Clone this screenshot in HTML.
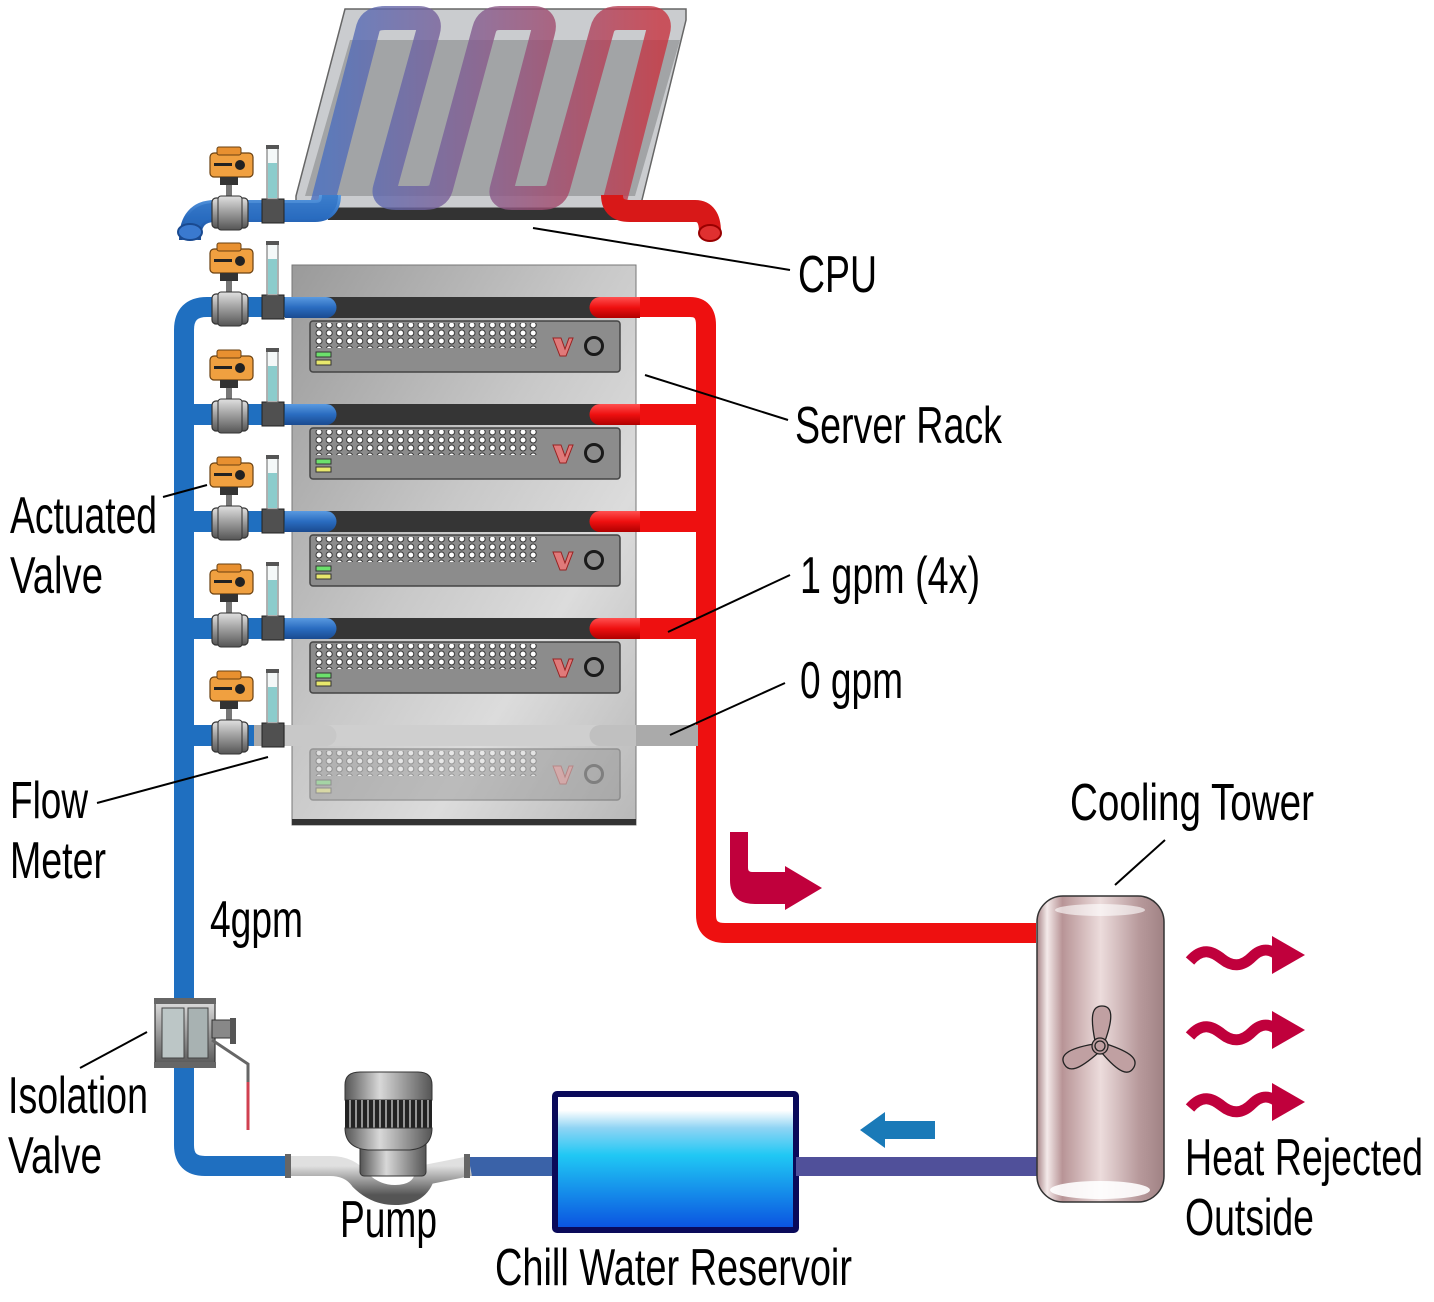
<!DOCTYPE html>
<html><head><meta charset="utf-8"><style>html,body{margin:0;padding:0;background:#fff}svg{display:block}
text{font-family:"Liberation Sans Narrow","Liberation Sans",sans-serif;font-size:52px;fill:#000}</style></head>
<body>
<svg width="1434" height="1302" viewBox="0 0 1434 1302" xmlns="http://www.w3.org/2000/svg">
<defs>
<linearGradient id="rack" x1="0" y1="0" x2="1" y2="1">
<stop offset="0" stop-color="#9a9a9a"/><stop offset="0.45" stop-color="#c8c8c8"/><stop offset="0.7" stop-color="#dcdcdc"/><stop offset="1" stop-color="#b8b8b8"/></linearGradient>
<linearGradient id="serp" x1="0" y1="0" x2="1" y2="0">
<stop offset="0" stop-color="#4a70c0"/><stop offset="0.5" stop-color="#8a5a8a"/><stop offset="1" stop-color="#c83440"/></linearGradient>
<linearGradient id="blueV" x1="0" y1="0" x2="0" y2="1"><stop offset="0" stop-color="#5a9ae0"/><stop offset="0.5" stop-color="#2a6cc0"/><stop offset="1" stop-color="#1a4a90"/></linearGradient>
<linearGradient id="redV" x1="0" y1="0" x2="0" y2="1"><stop offset="0" stop-color="#ff5050"/><stop offset="0.5" stop-color="#ee1010"/><stop offset="1" stop-color="#b00000"/></linearGradient>
<linearGradient id="tower" x1="0" y1="0" x2="1" y2="0">
<stop offset="0" stop-color="#a88688"/><stop offset="0.08" stop-color="#f4eaea"/><stop offset="0.2" stop-color="#b89496"/><stop offset="0.5" stop-color="#ecdcdc"/><stop offset="0.8" stop-color="#b89a9c"/><stop offset="1" stop-color="#a08284"/></linearGradient>
<linearGradient id="water" x1="0" y1="0" x2="0" y2="1">
<stop offset="0" stop-color="#ffffff"/><stop offset="0.12" stop-color="#ffffff"/><stop offset="0.25" stop-color="#8fd4f4"/><stop offset="0.45" stop-color="#20c8f4"/><stop offset="1" stop-color="#0a50e0"/></linearGradient>
<linearGradient id="metal" x1="0" y1="0" x2="0" y2="1"><stop offset="0" stop-color="#e0e0e0"/><stop offset="0.5" stop-color="#9a9a9a"/><stop offset="1" stop-color="#555"/></linearGradient>
<linearGradient id="metalH" x1="0" y1="0" x2="1" y2="0"><stop offset="0" stop-color="#555"/><stop offset="0.4" stop-color="#d8d8d8"/><stop offset="1" stop-color="#555"/></linearGradient>
<pattern id="dots" x="314" y="0" width="10.2" height="8" patternUnits="userSpaceOnUse">
<circle cx="5" cy="4" r="3" fill="#fff" stroke="#333" stroke-width="1"/></pattern>
<g id="server">
<rect x="292" y="0" width="344" height="21" fill="#353535"/>
<rect x="310" y="24" width="310" height="51" rx="3" fill="#8c8c8c" stroke="#444" stroke-width="1.5"/>
<rect x="314" y="26" width="225" height="25" fill="url(#dots)"/>
<rect x="316" y="55" width="15" height="5" fill="#6ce06c" stroke="#333"/>
<rect x="316" y="63" width="15" height="5" fill="#e8e86c" stroke="#333"/>
<path d="M553,41 L561,41 L565,52 L569,41 L573,41 L566,59 L560,59 Z" fill="#e07a7a" stroke="#922" stroke-width="1"/>
<circle cx="594" cy="49" r="8.5" fill="none" stroke="#1a1a1a" stroke-width="3"/>
</g>
<g id="valve">
<rect x="210" y="-58" width="43" height="24" rx="4" fill="#f0a040" stroke="#6a4010" stroke-width="1.2"/>
<rect x="217" y="-64" width="24" height="8" rx="2" fill="#e89030" stroke="#6a4010"/>
<circle cx="240" cy="-46" r="5" fill="#222"/>
<rect x="214" y="-48" width="18" height="3" fill="#222"/>
<rect x="220" y="-34" width="18" height="8" fill="#333"/>
<rect x="226" y="-26" width="6" height="14" fill="#777"/>
<rect x="212" y="-13" width="36" height="30" rx="4" fill="url(#metal)" stroke="#333" stroke-width="1.2"/>
<rect x="218" y="-15" width="24" height="34" rx="3" fill="url(#metal)" stroke="#333"/>
<rect x="262" y="-12" width="22" height="24" fill="#505050" stroke="#222"/>
<rect x="267" y="-64" width="11" height="52" fill="#f4f8f8" stroke="#666"/>
<rect x="268" y="-48" width="9" height="35" fill="#8ccccc"/>
<rect x="266" y="-66" width="13" height="4" fill="#555"/>
</g>
<path id="wave" d="M0,4 C12,-10 22,-6 32,2 C42,10 52,10 62,0 C72,-10 80,-8 88,-2" fill="none"/>
</defs>

<!-- CPU plate -->
<path d="M345,9 L686,9 L686,20 L640,208 L296,208 L296,196 Z" fill="#cacccf" stroke="#666" stroke-width="1.5"/>
<path d="M350,40 L680,40 L635,196 L305,196 Z" fill="#a2a4a6"/>
<rect x="328" y="208" width="305" height="12" fill="#333"/>
<path d="M322,205 L368,28 Q371,18 385,18 L418,18 Q432,18 428,32 L385,188 Q382,198 396,198 L425,198 Q438,198 441,188 L484,30 Q487,18 500,18 L533,18 Q547,18 543,32 L502,188 Q499,198 512,198 L542,198 Q555,198 558,188 L602,30 Q605,18 618,18 L648,18 Q662,18 658,32 L615,200" fill="none" stroke="url(#serp)" stroke-width="24" stroke-linejoin="round" opacity="0.8"/>

<!-- CPU blue pipe -->
<path d="M190,240 Q190,211 215,211 L315,211 Q330,211 330,195" fill="none" stroke="url(#blueV)" stroke-width="22"/>
<path d="M190,240 Q190,211 215,211 L315,211 Q330,211 330,195" fill="none" stroke="#2a6cc0" stroke-width="16" opacity="0.6"/>
<ellipse cx="190" cy="232" rx="12" ry="8" fill="#3a7ad0" stroke="#1a4a90" stroke-width="2"/>
<!-- CPU red pipe -->
<path d="M612,195 Q612,211 630,211 L695,211 Q710,211 710,232" fill="none" stroke="#d81818" stroke-width="22"/>
<ellipse cx="710" cy="233" rx="11" ry="8" fill="#e03030" stroke="#900" stroke-width="2"/>

<!-- Rack -->
<rect x="292" y="265" width="344" height="560" fill="url(#rack)" stroke="#777"/>
<rect x="292" y="819" width="344" height="6" fill="#333"/>
<use href="#server" y="297"/>
<use href="#server" y="404"/>
<use href="#server" y="511"/>
<use href="#server" y="618"/>
<g opacity="0.4"><use href="#server" y="725"/></g>
<rect x="292" y="725" width="344" height="21" fill="#cfcfcf"/>

<!-- main blue pipe -->
<path d="M184,1000 L184,330 Q184,307 207,307 L290,307" fill="none" stroke="#1f6fc0" stroke-width="20"/>
<path d="M184,1060 L184,1145 Q184,1166 205,1166 L290,1166" fill="none" stroke="#1f6fc0" stroke-width="20"/>
<rect x="194" y="404" width="96" height="21" fill="#1f6fc0"/>
<rect x="194" y="511" width="96" height="21" fill="#1f6fc0"/>
<rect x="194" y="618" width="96" height="21" fill="#1f6fc0"/>
<rect x="194" y="725" width="60" height="21" fill="#1f6fc0"/>
<rect x="254" y="725" width="40" height="21" fill="#aaa"/>
<g fill="url(#blueV)">
<path d="M285,297 L326,297 A10.5,10.5 0 0 1 326,318 L285,318Z"/>
<path d="M285,404 L326,404 A10.5,10.5 0 0 1 326,425 L285,425Z"/>
<path d="M285,511 L326,511 A10.5,10.5 0 0 1 326,532 L285,532Z"/>
<path d="M285,618 L326,618 A10.5,10.5 0 0 1 326,639 L285,639Z"/>
</g>
<path d="M285,725 L326,725 A10.5,10.5 0 0 1 326,746 L285,746Z" fill="#c8c8c8"/>
<!-- red -->
<path d="M600,307 L690,307 Q706,307 706,325 L706,915 Q706,933 725,933 L1036,933" fill="none" stroke="#ee1010" stroke-width="20"/>
<g fill="#ee1010">
<rect x="636" y="404" width="62" height="21"/><rect x="636" y="511" width="62" height="21"/><rect x="636" y="618" width="62" height="21"/>
</g>
<rect x="636" y="725" width="62" height="21" fill="#aaa"/>
<g fill="url(#redV)">
<path d="M640,297 L600,297 A10.5,10.5 0 0 0 600,318 L640,318Z"/>
<path d="M640,404 L600,404 A10.5,10.5 0 0 0 600,425 L640,425Z"/>
<path d="M640,511 L600,511 A10.5,10.5 0 0 0 600,532 L640,532Z"/>
<path d="M640,618 L600,618 A10.5,10.5 0 0 0 600,639 L640,639Z"/>
</g>
<path d="M636,725 L600,725 A10.5,10.5 0 0 0 600,746 L636,746Z" fill="#c0c0c0"/>

<use href="#valve" y="211"/>
<use href="#valve" y="307"/>
<use href="#valve" y="414"/>
<use href="#valve" y="521"/>
<use href="#valve" y="628"/>
<use href="#valve" y="735"/>

<!-- L arrow -->
<path d="M730,832 L748,832 L748,868 Q748,872 752,872 L785,872 L785,866 L822,888 L785,910 L785,904 L755,904 Q730,904 730,880 Z" fill="#c0003c"/>

<!-- isolation valve -->
<rect x="155" y="1000" width="60" height="66" fill="url(#metal)" stroke="#333" stroke-width="1.2"/>
<rect x="162" y="1008" width="22" height="50" fill="#bcc6c6" stroke="#444"/>
<rect x="188" y="1008" width="20" height="50" fill="#a8b2b2" stroke="#444"/>
<rect x="154" y="998" width="62" height="6" fill="#666"/><rect x="154" y="1062" width="62" height="6" fill="#666"/>
<rect x="212" y="1020" width="22" height="18" fill="#888" stroke="#333"/>
<rect x="230" y="1018" width="6" height="26" fill="#555"/>
<path d="M212,1040 L248,1064 L248,1130" fill="none" stroke="#666" stroke-width="3"/>
<line x1="248" y1="1082" x2="248" y2="1130" stroke="#d04050" stroke-width="3"/>

<rect x="465" y="1157" width="90" height="19" fill="#3a62a8"/>
<!-- pump -->
<path d="M290,1166 L330,1166 Q350,1166 360,1180 Q375,1195 395,1195 Q420,1195 425,1175 L470,1166" fill="none" stroke="url(#metal)" stroke-width="20"/>
<rect x="285" y="1154" width="6" height="24" fill="#666"/><rect x="464" y="1154" width="6" height="24" fill="#666"/>
<rect x="360" y="1140" width="66" height="36" rx="4" fill="url(#metalH)" stroke="#333"/>
<path d="M345,1100 L345,1085 Q345,1072 360,1072 L418,1072 Q432,1072 432,1085 L432,1100 Z" fill="url(#metalH)" stroke="#333"/>
<rect x="345" y="1100" width="87" height="28" fill="#222"/>
<g stroke="#bbb" stroke-width="1.5">
<line x1="350" y1="1100" x2="350" y2="1128"/><line x1="356" y1="1100" x2="356" y2="1128"/><line x1="362" y1="1100" x2="362" y2="1128"/><line x1="368" y1="1100" x2="368" y2="1128"/><line x1="374" y1="1100" x2="374" y2="1128"/><line x1="380" y1="1100" x2="380" y2="1128"/><line x1="386" y1="1100" x2="386" y2="1128"/><line x1="392" y1="1100" x2="392" y2="1128"/><line x1="398" y1="1100" x2="398" y2="1128"/><line x1="404" y1="1100" x2="404" y2="1128"/><line x1="410" y1="1100" x2="410" y2="1128"/><line x1="416" y1="1100" x2="416" y2="1128"/><line x1="422" y1="1100" x2="422" y2="1128"/><line x1="428" y1="1100" x2="428" y2="1128"/></g>
<path d="M345,1128 L432,1128 Q432,1148 410,1150 L368,1150 Q345,1148 345,1128Z" fill="url(#metalH)" stroke="#333"/>

<!-- reservoir -->
<rect x="555" y="1094" width="241" height="136" fill="url(#water)" stroke="#0a0a5a" stroke-width="6" rx="2"/>

<rect x="796" y="1157" width="242" height="19" fill="#50509a"/>
<path d="M935,1121 L885,1121 L885,1112 L860,1130 L885,1148 L885,1139 L935,1139 Z" fill="#1a7ab8"/>

<!-- tower -->
<rect x="1037" y="896" width="127" height="306" rx="26" fill="url(#tower)" stroke="#333" stroke-width="1.5"/>
<ellipse cx="1100" cy="1190" rx="50" ry="9" fill="#fff" opacity="0.9"/>
<ellipse cx="1100" cy="910" rx="45" ry="6" fill="#fff" opacity="0.6"/>
<g transform="translate(1100,1046)" fill="#c0a0a2" stroke="#222" stroke-width="1.3">
<path d="M-5,-5 C-10,-30 -8,-40 2,-40 C12,-40 14,-30 5,-5 Z"/>
<path d="M-5,-5 C-10,-30 -8,-40 2,-40 C12,-40 14,-30 5,-5 Z" transform="rotate(120)"/>
<path d="M-5,-5 C-10,-30 -8,-40 2,-40 C12,-40 14,-30 5,-5 Z" transform="rotate(240)"/>
<circle r="8"/><circle r="5"/>
</g>

<!-- heat arrows -->
<g fill="none" stroke="#c0003c" stroke-width="11">
<use href="#wave" x="1190" y="957"/><use href="#wave" x="1190" y="1032"/><use href="#wave" x="1190" y="1104"/>
</g>
<g fill="#c0003c">
<path d="M1272,936 L1305,955 L1272,974 Z"/><path d="M1272,1011 L1305,1030 L1272,1049 Z"/><path d="M1272,1083 L1305,1102 L1272,1121 Z"/>
</g>

<g stroke="#000" stroke-width="2">
<line x1="533" y1="228" x2="790" y2="270"/>
<line x1="645" y1="375" x2="788" y2="420"/>
<line x1="163" y1="497" x2="207" y2="485"/>
<line x1="668" y1="632" x2="790" y2="575"/>
<line x1="670" y1="735" x2="785" y2="683"/>
<line x1="97" y1="803" x2="268" y2="757"/>
<line x1="1115" y1="885" x2="1165" y2="840"/>
<line x1="80" y1="1068" x2="147" y2="1032"/>
</g>

<text x="798" y="292" textLength="79" lengthAdjust="spacingAndGlyphs">CPU</text>
<text x="795" y="443" textLength="207" lengthAdjust="spacingAndGlyphs">Server Rack</text>
<text x="10" y="533" textLength="147" lengthAdjust="spacingAndGlyphs">Actuated</text>
<text x="10" y="593" textLength="93" lengthAdjust="spacingAndGlyphs">Valve</text>
<text x="800" y="593" textLength="180" lengthAdjust="spacingAndGlyphs">1 gpm (4x)</text>
<text x="800" y="698" textLength="103" lengthAdjust="spacingAndGlyphs">0 gpm</text>
<text x="10" y="818" textLength="78" lengthAdjust="spacingAndGlyphs">Flow</text>
<text x="10" y="878" textLength="96" lengthAdjust="spacingAndGlyphs">Meter</text>
<text x="210" y="937" textLength="93" lengthAdjust="spacingAndGlyphs">4gpm</text>
<text x="1070" y="820" textLength="244" lengthAdjust="spacingAndGlyphs">Cooling Tower</text>
<text x="8" y="1113" textLength="140" lengthAdjust="spacingAndGlyphs">Isolation</text>
<text x="8" y="1173" textLength="94" lengthAdjust="spacingAndGlyphs">Valve</text>
<text x="340" y="1237" textLength="97" lengthAdjust="spacingAndGlyphs">Pump</text>
<text x="495" y="1285" textLength="357" lengthAdjust="spacingAndGlyphs">Chill Water Reservoir</text>
<text x="1185" y="1175" textLength="238" lengthAdjust="spacingAndGlyphs">Heat Rejected</text>
<text x="1185" y="1235" textLength="129" lengthAdjust="spacingAndGlyphs">Outside</text>
</svg>
</body></html>
